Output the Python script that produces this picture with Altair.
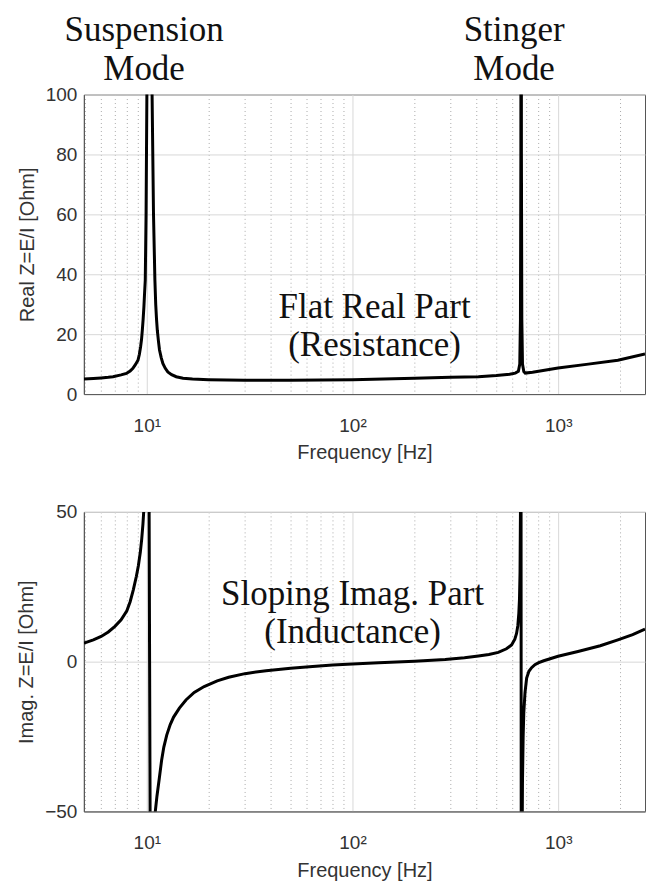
import altair as alt
import pandas as pd

# ---- data ----
freq_re = [4.95, 5.5, 6.0, 6.5, 6.85, 7.5, 7.96, 8.3, 8.56, 8.8,
           9.06, 9.2, 9.33, 9.43, 9.51, 9.6, 9.68, 9.76, 9.83, 9.92,
           10.01, 10.15, 10.32, 10.48, 10.61, 10.78, 10.95, 11.05, 11.15, 11.25,
           11.4, 11.53, 11.75, 11.97, 12.3, 12.65, 13.2, 13.9, 15.0, 16.67,
           20, 30, 50, 100, 200, 300, 409, 500, 580, 618,
           640, 650, 655, 658, 660, 662, 665, 670, 680, 691,
           750, 998, 1400, 1949, 2640]
re_vals = [5.0, 5.2, 5.4, 5.6, 5.8, 6.4, 6.9, 7.7, 8.6, 9.8,
           11.3, 13.2, 15.8, 18.3, 21.3, 25.0, 29.0, 34.0, 38.0, 60.0,
           100.0, 180.0, 400.0, 180.0, 100.0, 60.0, 38.0, 30.0, 25.0, 21.3,
           17.5, 14.7, 12.2, 10.2, 8.6, 7.4, 6.5, 5.8, 5.3, 5.0,
           4.8, 4.6, 4.6, 4.8, 5.3, 5.6, 5.8, 6.2, 6.6, 7.0,
           7.6, 10.0, 25.0, 80.0, 300.0, 80.0, 25.0, 10.0, 7.5, 7.0,
           7.3, 8.7, 10.0, 11.3, 13.4]

freq_im = [4.95, 5.5, 6.0, 6.5, 7.0, 7.5, 8.0, 8.3, 8.6, 8.9,
           9.1, 9.3, 9.45, 9.58, 9.68, 9.8, 9.95, 10.1, 10.32, 10.55,
           10.75, 11.0, 11.2, 11.5, 11.8, 12.1, 12.5, 13.0, 13.5, 14.4,
           15.5, 17.0, 19.0, 22.0, 25.0, 30.0, 38.0, 50.0, 64.0, 80.0,
           100, 134, 200, 282, 350, 409, 460, 511, 560, 593,
           615, 627, 636, 643, 648, 652, 655, 658, 662, 666,
           670, 675, 680, 689, 702, 720, 742, 770, 799, 850,
           998, 1247, 1600, 1949, 2300, 2640]
im_vals = [6.2, 7.3, 8.4, 9.9, 11.8, 14.0, 17.0, 20.0, 24.0, 28.5,
           32.0, 36.5, 41.0, 46.0, 51.0, 70.0, 110.0, 200.0, 0.0, -200.0,
           -90.0, -50.0, -45.0, -39.0, -33.0, -28.5, -24.5, -21.0, -18.5, -15.5,
           -12.8, -10.3, -8.3, -6.4, -5.2, -4.0, -3.0, -2.2, -1.6, -1.1,
           -0.8, -0.4, 0.1, 0.7, 1.3, 1.9, 2.4, 3.1, 4.3, 5.6,
           7.5, 9.4, 12.0, 16.0, 21.0, 30.0, 50.0, 200.0, -200.0, -70.0,
           -40.0, -25.0, -17.0, -10.4, -5.5, -3.2, -2.0, -1.0, -0.4, 0.3,
           1.8, 3.4, 5.3, 7.3, 9.0, 10.9]

x_ticks = [5, 6, 7, 8, 9, 10, 20, 30, 40, 50, 60, 70, 80, 90,
           100, 200, 300, 400, 500, 600, 700, 800, 900, 1000, 2000]
y_ticks_top = [0, 20, 40, 60, 80, 100]
y_ticks_bot = [-50, 0, 50]

# annotations (anchored in data coordinates)
ann_top_f = [9.7, 9.7, 610, 610, 128, 128]
ann_top_v = [118.0, 105.0, 118.0, 105.0, 25.5, 12.8]
ann_top_t = ["Suspension", "Mode", "Stinger", "Mode", "Flat Real Part", "(Resistance)"]
ann_bot_f = [100, 100]
ann_bot_v = [19.0, 6.3]
ann_bot_t = ["Sloping Imag. Part", "(Inductance)"]

df_re = pd.DataFrame({"f": freq_re, "v": re_vals})
df_im = pd.DataFrame({"f": freq_im, "v": im_vals})
df_at = pd.DataFrame({"f": ann_top_f, "v": ann_top_v, "t": ann_top_t})
df_ab = pd.DataFrame({"f": ann_bot_f, "v": ann_bot_v, "t": ann_bot_t})

AX_FONT = "Liberation Sans"
SERIF = "Liberation Serif"
AX_COLOR = "#333333"
major = "datum.value == 10 || datum.value == 100 || datum.value == 1000"

x_scale = alt.Scale(type="log", domain=[4.945, 2640], nice=False)


def x_axis():
    return alt.Axis(
        values=x_ticks,
        labelExpr="datum.value == 10 ? '10¹' : datum.value == 100 ? '10²' : datum.value == 1000 ? '10³' : ''",
        labelOverlap=False,
        labelFlush=False,
        title="Frequency [Hz]",
        grid=True,
        gridColor={"condition": {"test": major, "value": "#d8d8d8"}, "value": "#ababab"},
        gridDash={"condition": {"test": major, "value": []}, "value": [1, 3]},
        ticks=False,
        labelPadding=22,
        titlePadding=8,
    )


def y_axis(vals, title):
    return alt.Axis(values=vals, title=title, grid=True, gridColor="#d8d8d8",
                    ticks=False, labelPadding=7, titlePadding=8)


def panel(df, dfa, ydom, yvals, ytitle):
    yscale = alt.Scale(domain=ydom, nice=False, zero=False)
    line = alt.Chart(df).mark_line(color="black", strokeWidth=3, clip=True).encode(
        x=alt.X("f:Q", scale=x_scale, axis=x_axis()),
        y=alt.Y("v:Q", scale=yscale, axis=y_axis(yvals, ytitle)),
        order=alt.Order("f:Q"),
    )
    txt = alt.Chart(dfa).mark_text(font=SERIF, fontSize=35, color="#111111",
                                   align="center", baseline="alphabetic").encode(
        x=alt.X("f:Q", scale=x_scale, axis=x_axis()),
        y=alt.Y("v:Q", scale=yscale, axis=y_axis(yvals, ytitle)),
        text="t:N",
    )
    return alt.layer(line, txt).properties(width=562, height=300)


top = panel(df_re, df_at, [0, 100], y_ticks_top, "Real Z=E/I [Ohm]")
bot = panel(df_im, df_ab, [-50, 50], y_ticks_bot, "Imag. Z=E/I [Ohm]")

chart = alt.vconcat(top, bot, spacing=118, bounds="flush").properties(
    padding={"left": 16, "top": 11, "right": 0, "bottom": 5},
    background="white",
).configure_axis(
    labelFont=AX_FONT, titleFont=AX_FONT, labelFontSize=19, titleFontSize=20,
    labelColor=AX_COLOR, titleColor=AX_COLOR, titleFontWeight="normal",
    domainColor="#555555", domainWidth=1,
).configure_view(stroke="#555555", strokeWidth=1)

chart.save("out.html", embed_options={"renderer": "svg", "actions": False})
